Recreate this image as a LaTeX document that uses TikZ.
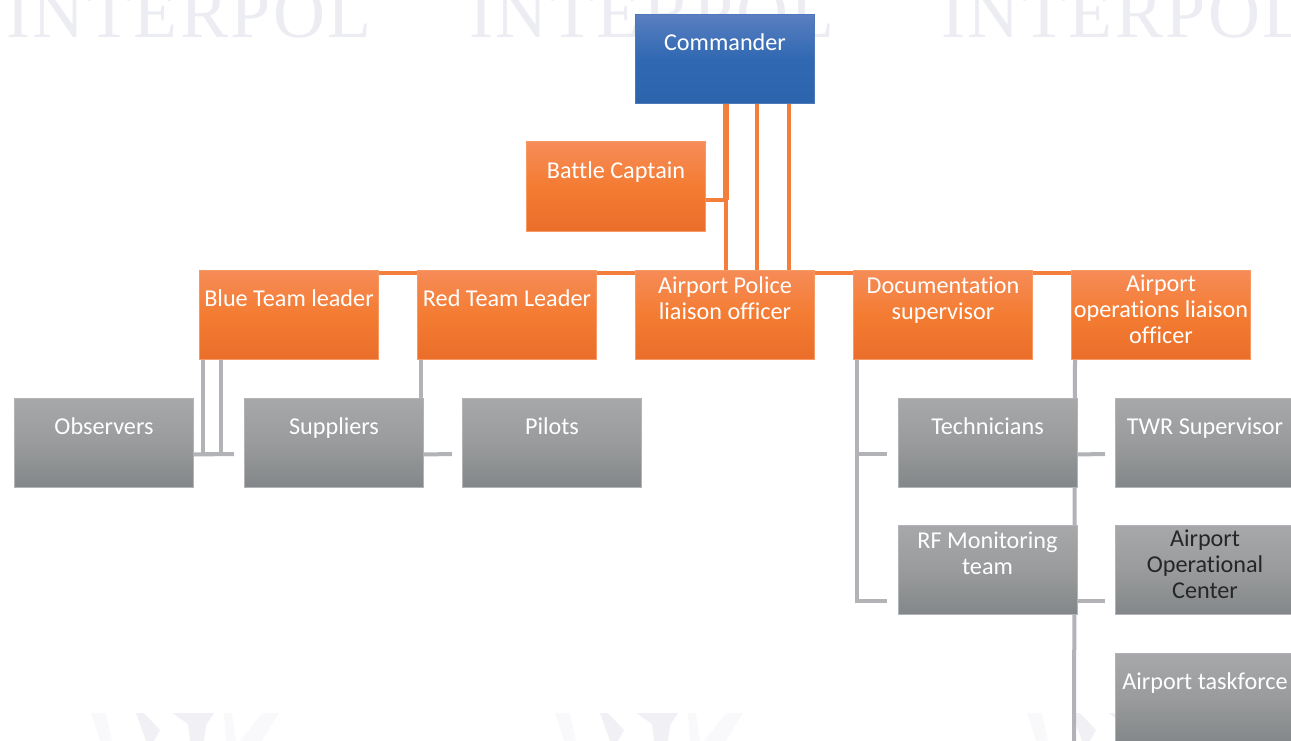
\documentclass[tikz,border=0pt]{standalone}
\usepackage{fontspec}
\setmainfont[Ligatures=NoCommon]{Carlito}
\newfontfamily\markfont[LetterSpace=3.5]{Liberation Serif}
\usetikzlibrary{backgrounds}

\definecolor{markgrey}{HTML}{ECECF3}
\definecolor{orangeline}{HTML}{F47F3C}
\definecolor{greyline}{HTML}{B1B3B6}

\begin{document}
\begin{tikzpicture}[
                x = 1pt, y = -1pt, % one unit is one pixel of the page
                node distance = 218pt % distance between node centres
            ]

            \tikzstyle{chartbox}=[inner sep = 0pt, minimum width = 179pt,
            minimum height = 89pt, align = center, line width = 1pt,
            font = \fontsize{24.2}{26}\selectfont, text = white, text depth = 33pt]
            \tikzstyle{threelines}=[text depth = 11pt]
            \tikzstyle{bluebox}=[chartbox, draw = {rgb,255:red,78;green,120;blue,190},
            top color = {rgb,255:red,90;green,126;blue,192},
            bottom color = {rgb,255:red,44;green,100;blue,172},
            middle color = {rgb,255:red,48;green,105;blue,178}]
            \tikzstyle{orangebox}=[chartbox, draw = orangeline!80!white,
            top color = {rgb,255:red,246;green,140;blue,88},
            bottom color = {rgb,255:red,234;green,110;blue,42},
            middle color = {rgb,255:red,244;green,124;blue,50}]
            \tikzstyle{greybox}=[chartbox, draw = greyline,
            top color = {rgb,255:red,166;green,168;blue,169},
            bottom color = {rgb,255:red,132;green,135;blue,137},
            middle color = {rgb,255:red,153;green,155;blue,156}]
            \tikzstyle{orangeedge}=[draw = orangeline, line width = 4pt]
            \tikzstyle{greyedge}=[draw = greyline, line width = 4pt]
            \tikzstyle{watermark}=[text = markgrey, inner sep = 0pt, anchor = base,
            font = \markfont\fontsize{72}{72}\selectfont]

            \clip (0,0) rectangle (1291,741);

            \node (commander) [bluebox] at (725,59) {Commander};
            \node (battle) [orangebox] at (616,186.5) {Battle Captain};
            \node (police) [orangebox, below of=commander, node distance = 255.5pt]
            {Airport Police\\liaison officer};
            \node (red) [orangebox, left of=police] {Red Team Leader};
            \node (blue) [orangebox, left of=red] {Blue Team leader};
            \node (doc) [orangebox, right of=police] {Documentation\\supervisor};
            \node (ops) [orangebox, threelines, right of=doc]
            {Airport\\operations liaison\\officer};

            \node (observers) [greybox] at (104,442.5) {Observers};
            \node (suppliers) [greybox] at (334,442.5) {Suppliers};
            \node (pilots) [greybox, right of=suppliers] {Pilots};
            \node (tech) [greybox] at (987.5,442.5) {Technicians};
            \node (twr) [greybox, right of=tech, node distance = 217.5pt] {TWR Supervisor};
            \node (rf) [greybox, below of=tech, node distance = 127pt] {RF Monitoring\\team};
            \node (aoc) [greybox, threelines, text = black!85, below of=twr,
                node distance = 127pt] {Airport\\Operational\\Center};
            \node (task) [greybox, below of=aoc, node distance = 128.5pt] {Airport taskforce};

            \coordinate (obsend) at (234,454);
            \coordinate (pilotsend) at (452,454);
            \coordinate (techend) at (887,454);
            \coordinate (rfend) at (887,600.5);
            \coordinate (twrend) at (1105,454);
            \coordinate (aocend) at (1105,600.5);
            \coordinate (opsend) at (1074,741);

            \begin{pgfonlayer}{background}
                % faded page marks behind the chart
                \node (mark1) [watermark] at (189,38) {INTERPOL};
                \node (mark2) [watermark] at (652,38) {INTERPOL};
                \node (mark3) [watermark] at (1124,38) {INTERPOL};
                \foreach \ex in {0,464,936} {
                    \begin{scope}[xshift=\ex pt]
                        \fill[markgrey!30] (91,713) -- (106,713) -- (112,741) -- (100,741) -- cycle;
                        \fill[markgrey!30] (279,713) -- (262,713) -- (240,741) -- (262,741) -- cycle;
                        \fill[markgrey!30] (224,713) -- (232,713) -- (236,741) -- (226,741) -- cycle;
                        \fill[markgrey!80] (136,713) -- (144,713) -- (160,730) -- (154,741) -- (146,741) -- cycle;
                        \fill[markgrey!80] (172,713) -- (214,713) -- (206,725) -- (204,741) -- (190,741) -- (188,724) -- cycle;
                    \end{scope}
                }

                \draw[orangeedge] ([xshift=0.5pt]commander.south) -- ([xshift=0.5pt]police.north);
                \draw[orangeedge, line width = 6pt] ([xshift=1pt]commander.south) -- ([xshift=1pt]commander.south |- 0,200);
                \draw[orangeedge] ([xshift=32pt]commander.south) -- ([xshift=32pt]police.north);
                \draw[orangeedge] ([xshift=64pt]commander.south) -- ([xshift=64pt]police.north);
                \draw[orangeedge] ([yshift=-13pt]battle.east) -- ([yshift=-13pt]battle.east -| commander.south);
                \draw[orangeedge] ([yshift=42pt]blue.east) -- ([yshift=42pt]red.west);
                \draw[orangeedge] ([yshift=42pt]red.east) -- ([yshift=42pt]police.west);
                \draw[orangeedge] ([yshift=42pt]police.east) -- ([yshift=42pt]doc.west);
                \draw[orangeedge] ([yshift=42pt]doc.east) -- ([yshift=42pt]ops.west);

                \draw[greyedge] ([xshift=-86pt]blue.south) |- (obsend);
                \draw[greyedge] ([xshift=-68pt]blue.south) |- (obsend);
                \draw[greyedge] ([yshift=-12pt]observers.east) -- (obsend);
                \draw[greyedge] ([xshift=-86pt]red.south) -- ([xshift=87pt]suppliers.north);
                \draw[greyedge] ([yshift=-12pt]suppliers.east) -- (pilotsend);
                \draw[greyedge] ([xshift=-86.5pt]doc.south) |- (techend);
                \draw[greyedge] ([xshift=-86.5pt]doc.south) |- (rfend);
                \draw[greyedge] ([xshift=-86pt]ops.south) -- (opsend);
                \draw[greyedge] ([yshift=-12pt]tech.east) -- (twrend);
                \draw[greyedge] ([yshift=-31pt]rf.east) -- (aocend);
            \end{pgfonlayer}
        \end{tikzpicture}
\end{document}
